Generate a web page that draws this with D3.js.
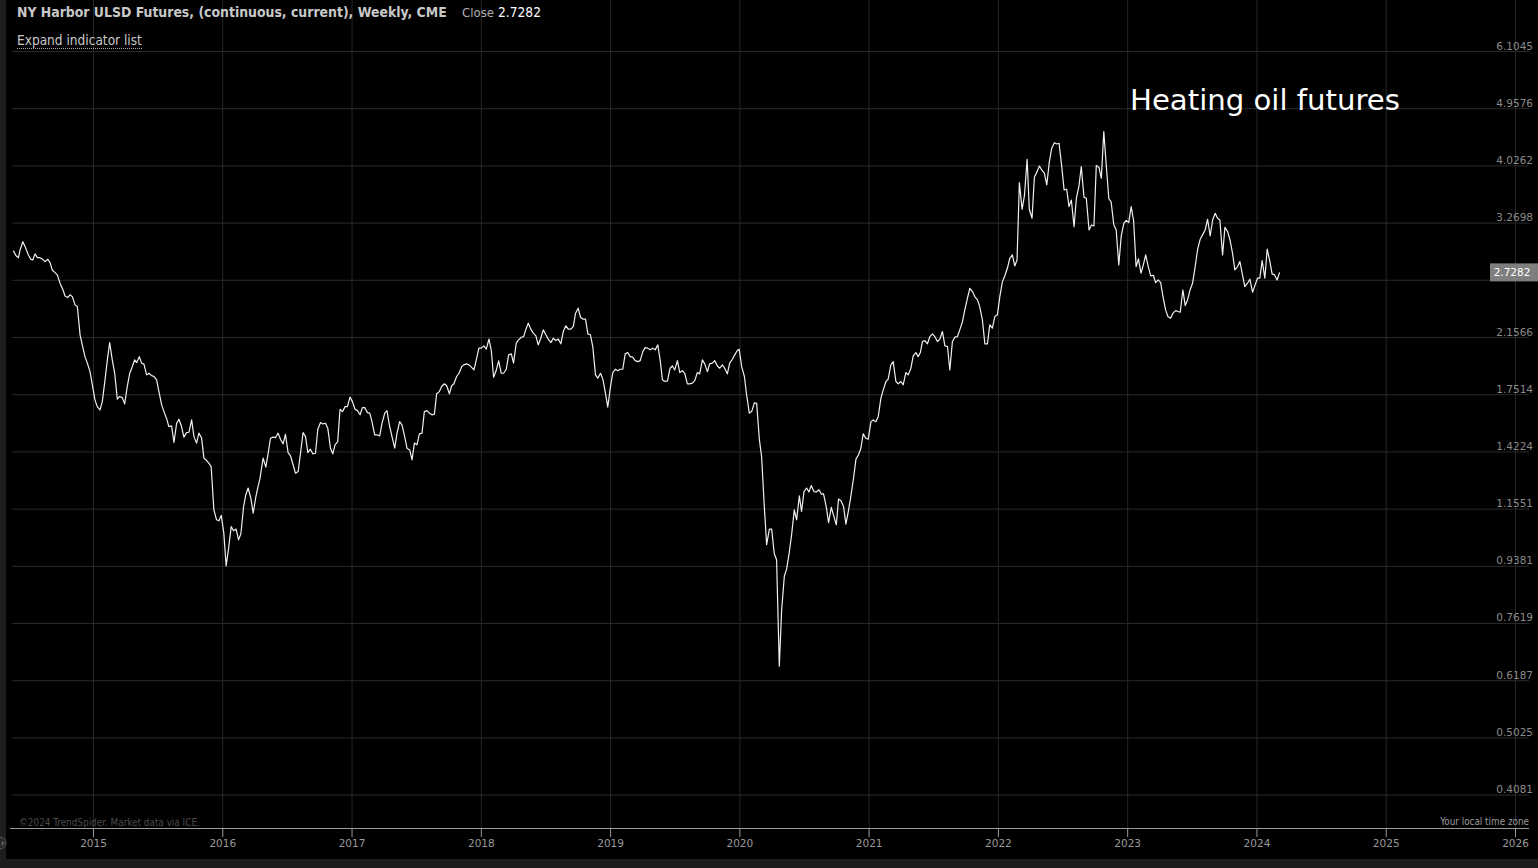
<!DOCTYPE html>
<html><head><meta charset="utf-8">
<script src="https://cdn.jsdelivr.net/npm/d3@7"></script>
<style>html,body{margin:0;padding:0;background:#000;overflow:hidden}</style>
</head><body><svg id="c" width="1538" height="868"></svg>
<script>
// Weekly close, decimal-year dates
const dates = [
2014.384,2014.403,2014.423,2014.436,2014.457,2014.475,2014.500,2014.519,2014.534,2014.552,2014.570,2014.590,2014.611,2014.629,2014.650,2014.668,2014.685,2014.706,2014.724,2014.745,2014.766,2014.784,2014.804,2014.822,2014.840,2014.861,2014.879,2014.900,2014.920,2014.938,2014.956,2014.977,2014.995,
2015.015,2015.033,2015.054,2015.072,2015.093,2015.111,2015.129,2015.149,2015.168,2015.188,2015.206,2015.226,2015.245,2015.265,2015.284,2015.304,2015.322,2015.338,2015.358,2015.376,2015.394,2015.415,2015.433,2015.454,2015.471,2015.492,2015.510,2015.531,2015.549,2015.570,2015.587,2015.608,2015.626,2015.647,2015.665,2015.685,2015.703,2015.724,2015.742,2015.763,2015.781,2015.801,2015.819,2015.840,2015.858,2015.879,2015.896,2015.914,2015.935,2015.956,2015.974,2015.992,
2016.012,2016.030,2016.049,2016.069,2016.087,2016.107,2016.126,2016.144,2016.165,2016.182,2016.200,2016.221,2016.239,2016.260,2016.277,2016.291,2016.316,2016.337,2016.355,2016.373,2016.393,2016.412,2016.432,2016.450,2016.471,2016.489,2016.509,2016.528,2016.548,2016.566,2016.587,2016.605,2016.625,2016.644,2016.662,2016.682,2016.700,2016.721,2016.739,2016.760,2016.777,2016.798,2016.816,2016.837,2016.855,2016.872,2016.893,2016.911,2016.930,2016.950,2016.968,2016.988,
2017.007,2017.027,2017.046,2017.066,2017.084,2017.102,2017.123,2017.141,2017.158,2017.179,2017.197,2017.218,2017.236,2017.257,2017.274,2017.295,2017.313,2017.334,2017.352,2017.372,2017.390,2017.411,2017.429,2017.450,2017.468,2017.486,2017.506,2017.525,2017.545,2017.563,2017.583,2017.602,2017.622,2017.641,2017.658,2017.679,2017.697,2017.718,2017.736,2017.757,2017.774,2017.792,2017.813,2017.831,2017.852,2017.869,2017.888,2017.908,2017.927,2017.947,2017.965,2017.985,
2018.004,2018.024,2018.042,2018.063,2018.081,2018.099,2018.120,2018.138,2018.158,2018.176,2018.197,2018.215,2018.236,2018.253,2018.274,2018.292,2018.313,2018.331,2018.349,2018.367,2018.387,2018.406,2018.426,2018.444,2018.464,2018.483,2018.503,2018.522,2018.542,2018.560,2018.580,2018.599,2018.619,2018.638,2018.658,2018.676,2018.696,2018.715,2018.733,2018.753,2018.771,2018.792,2018.810,2018.828,2018.848,2018.866,2018.887,2018.905,2018.926,2018.944,2018.964,2018.982,
2019.003,2019.021,2019.042,2019.059,2019.078,2019.098,2019.117,2019.137,2019.155,2019.175,2019.194,2019.214,2019.233,2019.253,2019.271,2019.291,2019.310,2019.330,2019.349,2019.369,2019.387,2019.405,2019.426,2019.444,2019.464,2019.482,2019.500,2019.521,2019.539,2019.560,2019.577,2019.598,2019.616,2019.637,2019.655,2019.675,2019.693,2019.714,2019.732,2019.753,2019.770,2019.791,2019.809,2019.830,2019.848,2019.869,2019.886,2019.907,2019.925,2019.946,2019.964,2019.984,2019.998,
2020.018,2020.039,2020.056,2020.077,2020.095,2020.116,2020.134,2020.155,2020.172,2020.193,2020.211,2020.232,2020.250,2020.270,2020.288,2020.309,2020.327,2020.348,2020.365,2020.386,2020.404,2020.425,2020.443,2020.464,2020.481,2020.500,2020.520,2020.538,2020.556,2020.577,2020.595,2020.616,2020.634,2020.651,2020.672,2020.690,2020.711,2020.729,2020.750,2020.767,2020.786,2020.806,2020.824,2020.845,2020.863,2020.883,2020.902,2020.922,2020.940,2020.958,2020.979,2020.997,
2021.018,2021.035,2021.056,2021.074,2021.095,2021.113,2021.134,2021.151,2021.172,2021.190,2021.211,2021.229,2021.250,2021.267,2021.288,2021.306,2021.327,2021.345,2021.366,2021.383,2021.400,2021.416,2021.435,2021.455,2021.474,2021.494,2021.512,2021.532,2021.551,2021.571,2021.590,2021.610,2021.628,2021.648,2021.667,2021.687,2021.705,2021.726,2021.744,2021.764,2021.783,2021.803,2021.821,2021.842,2021.860,2021.880,2021.899,2021.919,2021.937,2021.957,2021.976,2021.996,
2022.015,2022.035,2022.053,2022.073,2022.092,2022.112,2022.130,2022.148,2022.166,2022.187,2022.205,2022.226,2022.243,2022.264,2022.282,2022.303,2022.321,2022.339,2022.359,2022.378,2022.398,2022.416,2022.437,2022.455,2022.473,2022.494,2022.512,2022.532,2022.550,2022.568,2022.589,2022.607,2022.627,2022.645,2022.666,2022.684,2022.705,2022.724,2022.743,2022.761,2022.782,2022.800,2022.819,2022.838,2022.858,2022.876,2022.896,2022.915,2022.935,2022.954,2022.974,2022.992,
2023.012,2023.031,2023.050,2023.069,2023.087,2023.107,2023.125,2023.143,2023.163,2023.182,2023.202,2023.220,2023.240,2023.259,2023.277,2023.297,2023.315,2023.336,2023.354,2023.375,2023.393,2023.410,2023.431,2023.449,2023.467,2023.488,2023.506,2023.526,2023.545,2023.565,2023.583,2023.603,2023.622,2023.642,2023.661,2023.681,2023.699,2023.717,2023.738,2023.756,2023.777,2023.794,2023.815,2023.833,2023.854,2023.872,2023.892,2023.910,2023.931,2023.949,2023.970,2023.987,
2024.008,2024.026,2024.044,2024.065,2024.083,2024.104,2024.121,2024.140,2024.160,2024.179
];
const closes = [
2.953,2.900,2.878,2.960,3.051,2.996,2.907,2.861,2.854,2.918,2.878,2.878,2.861,2.837,2.861,2.826,2.752,2.726,2.703,2.623,2.566,2.504,2.489,2.514,2.498,2.424,2.409,2.174,2.083,2.008,1.961,1.901,1.812,
1.716,1.674,1.654,1.705,1.845,1.984,2.113,1.984,1.890,1.720,1.737,1.730,1.691,1.801,1.890,1.936,1.984,1.965,2.008,1.961,1.954,1.879,1.890,1.874,1.868,1.845,1.768,1.685,1.644,1.601,1.557,1.561,1.469,1.576,1.599,1.557,1.498,1.523,1.525,1.595,1.501,1.466,1.520,1.493,1.388,1.376,1.363,1.346,1.150,1.109,1.105,1.127,
1.056,0.938,1.000,1.082,1.066,1.072,1.031,1.054,1.164,1.215,1.245,1.200,1.136,1.207,1.252,1.287,1.388,1.343,1.413,1.492,1.498,1.496,1.520,1.487,1.462,1.514,1.416,1.399,1.355,1.314,1.322,1.413,1.523,1.501,1.416,1.434,1.410,1.413,1.542,1.580,1.572,1.576,1.548,1.439,1.410,1.457,1.474,1.658,1.644,1.674,1.674,1.733,
1.705,1.658,1.650,1.625,1.668,1.668,1.638,1.635,1.585,1.511,1.511,1.505,1.576,1.635,1.650,1.557,1.501,1.439,1.520,1.585,1.567,1.501,1.439,1.430,1.379,1.466,1.457,1.516,1.520,1.644,1.650,1.635,1.625,1.629,1.754,1.768,1.801,1.819,1.806,1.754,1.806,1.819,1.868,1.890,1.936,1.949,1.956,1.949,1.933,1.913,1.984,2.071,
2.071,2.088,2.063,2.140,2.053,1.863,1.913,1.977,1.890,1.890,1.918,2.021,2.028,1.961,2.109,2.134,2.155,2.160,2.219,2.268,2.219,2.187,2.166,2.096,2.147,2.213,2.174,2.140,2.113,2.147,2.129,2.140,2.104,2.200,2.246,2.219,2.219,2.240,2.352,2.395,2.318,2.301,2.301,2.181,2.174,2.083,1.879,1.857,1.890,1.850,1.758,1.671,
1.801,1.895,1.918,1.908,1.918,1.918,2.028,2.038,2.008,2.004,1.979,1.972,1.979,2.045,2.075,2.071,2.058,2.071,2.058,2.096,1.984,1.845,1.834,1.838,1.925,1.941,1.913,1.979,1.895,1.908,1.890,1.819,1.819,1.823,1.840,1.895,1.886,1.984,1.956,1.901,1.956,1.961,1.979,1.941,1.925,1.949,1.925,1.886,1.961,1.989,2.021,2.053,2.063,
1.936,1.868,1.748,1.635,1.644,1.697,1.694,1.483,1.396,1.164,1.013,1.072,1.072,0.980,0.959,0.651,0.799,0.904,0.926,0.985,1.050,1.150,1.109,1.210,1.143,1.229,1.245,1.227,1.256,1.229,1.227,1.237,1.218,1.219,1.164,1.098,1.160,1.127,1.089,1.196,1.189,1.164,1.092,1.150,1.210,1.290,1.383,1.405,1.439,1.516,1.492,1.487,
1.585,1.595,1.585,1.614,1.727,1.779,1.834,1.850,1.949,1.972,1.834,1.819,1.834,1.812,1.895,1.879,1.925,2.013,2.038,2.008,2.038,2.121,2.129,2.104,2.160,2.181,2.160,2.121,2.140,2.200,2.088,2.083,1.913,2.121,2.155,2.160,2.213,2.281,2.380,2.483,2.575,2.544,2.498,2.468,2.404,2.295,2.104,2.104,2.254,2.227,2.323,2.338,
2.498,2.638,2.693,2.769,2.872,2.907,2.793,2.854,3.781,3.432,3.603,4.117,3.432,3.322,3.856,3.936,4.018,3.960,3.913,3.750,4.081,4.285,4.373,4.353,4.364,4.008,3.682,3.692,3.465,3.550,3.222,3.572,3.736,4.008,3.586,3.572,3.183,3.242,3.230,4.026,3.996,3.842,4.552,4.033,3.566,3.525,3.248,3.183,2.803,3.115,3.262,3.297,
3.269,3.465,3.289,2.786,2.865,2.720,2.803,2.907,2.786,2.693,2.700,2.628,2.654,2.628,2.498,2.380,2.323,2.309,2.352,2.374,2.366,2.360,2.559,2.418,2.468,2.566,2.623,2.786,2.968,3.078,3.127,3.183,3.310,3.115,3.301,3.383,3.322,3.301,2.907,3.215,3.164,3.078,2.925,2.752,2.786,2.837,2.703,2.590,2.623,2.661,2.538,2.597,
2.671,2.671,2.847,2.671,2.968,2.837,2.713,2.703,2.654,2.7282
];
const yearTicks = [2015,2016,2017,2018,2019,2020,2021,2022,2023,2024,2025,2026];
const priceTicks = [6.1045,4.9576,4.0262,3.2698,2.6556,2.1566,1.7514,1.4224,1.1551,0.9381,0.7619,0.6187,0.5025,0.4081];
const hiddenPriceLabels = [2.6556];
const lastClose = 2.7282;
const titleText = "NY Harbor ULSD Futures, (continuous, current), Weekly, CME";
const closeLabel = "Close";
const expandText = "Expand indicator list";
const annotation = "Heating oil futures";
const copyright = "\u00A92024 TrendSpider. Market data via ICE.";
const tzText = "Your local time zone";

const data = dates.map((t,i)=>({t, v: closes[i]}));
const svg = d3.select("#c");
const W = 1538, H = 868;
svg.append("rect").attr("width",W).attr("height",H).attr("fill","#000");
// frame strips
svg.append("rect").attr("x",0).attr("y",0).attr("width",6).attr("height",H).attr("fill","#1d1d1d");
svg.append("rect").attr("x",0).attr("y",859).attr("width",W).attr("height",9).attr("fill","#1d1d1d");

const x = d3.scaleLinear().domain([2015,2026]).range([93,1515]);
const y = d3.scaleLog().domain([priceTicks[priceTicks.length-1], priceTicks[0]]).range([794.6,51]);

// vertical grid
const vg = svg.append("g").attr("transform","translate(0,828)")
  .call(d3.axisBottom(x).tickValues(yearTicks).tickSize(-828).tickFormat(""));
vg.select(".domain").remove();
vg.selectAll("line").attr("stroke","#262626").attr("stroke-width",1);

// horizontal grid
const hg = svg.append("g").attr("transform","translate(1529,0)")
  .call(d3.axisLeft(y).tickValues(priceTicks).tickSize(1517).tickFormat(""));
hg.select(".domain").remove();
hg.selectAll("line").attr("stroke","#2a2a2a").attr("stroke-width",1);

// price labels
const pl = svg.append("g").attr("transform","translate(1533,0)")
  .call(d3.axisLeft(y).tickValues(priceTicks.filter(v=>!hiddenPriceLabels.includes(v))).tickSize(0).tickPadding(0).tickFormat(d3.format(".4f")));
pl.select(".domain").remove();
pl.selectAll("text").attr("font-family","DejaVu Sans").attr("font-size",10.5).attr("fill","#8a8a8a")
  .attr("dy",0).attr("y",-2).attr("text-anchor","end");

// x axis
const xa = svg.append("g").attr("transform","translate(0,828)")
  .call(d3.axisBottom(x).tickValues(yearTicks).tickSize(9).tickPadding(3).tickFormat(d3.format("d")));
xa.select(".domain").remove();
svg.append("line").attr("x1",10).attr("x2",1529).attr("y1",828.5).attr("y2",828.5).attr("stroke","#9a9a9a");
xa.selectAll("line").attr("stroke","#9a9a9a");
xa.selectAll("text").attr("font-family","DejaVu Sans").attr("font-size",10.5).attr("fill","#999").attr("dy","0.71em");

// price line
svg.append("path").datum(data)
  .attr("d", d3.line().x(d=>x(d.t)).y(d=>y(d.v)))
  .attr("fill","none").attr("stroke","#f0f0f0").attr("stroke-width",1.2).attr("stroke-linejoin","round");

// current price tag
const ly = y(lastClose);
svg.append("rect").attr("x",1490).attr("y",ly-9).attr("width",48).attr("height",18).attr("fill","#7f7f7f");
svg.append("text").attr("x",1512).attr("y",ly+4).attr("text-anchor","middle")
  .attr("font-family","DejaVu Sans").attr("font-size",10.5).attr("fill","#fff").text(d3.format(".4f")(lastClose));

function fit(sel, w){ const l = sel.node().getComputedTextLength(); sel.attr("font-size", parseFloat(sel.attr("font-size"))*w/l); return sel; }

// title
fit(svg.append("text").attr("x",17).attr("y",17).attr("font-family","DejaVu Sans Condensed, DejaVu Sans")
  .attr("font-weight","bold").attr("font-size",13).attr("fill","#c8c8c8").text(titleText), 430);
fit(svg.append("text").attr("x",462).attr("y",17).attr("font-family","DejaVu Sans Condensed, DejaVu Sans")
  .attr("font-size",13).attr("fill","#b0b0b0").text(closeLabel), 32);
fit(svg.append("text").attr("x",498).attr("y",17).attr("font-family","DejaVu Sans Condensed, DejaVu Sans")
  .attr("font-size",13).attr("fill","#fff").text(d3.format(".4f")(lastClose)), 43);
fit(svg.append("text").attr("x",17).attr("y",45).attr("font-family","DejaVu Sans Condensed, DejaVu Sans")
  .attr("font-size",14).attr("fill","#c8c8c8").text(expandText), 125);
svg.append("line").attr("x1",17).attr("x2",142).attr("y1",48.5).attr("y2",48.5)
  .attr("stroke","#aaa").attr("stroke-dasharray","1,1");

// annotation
fit(svg.append("text").attr("x",1130).attr("y",110).attr("font-family","DejaVu Sans")
  .attr("font-size",29).attr("fill","#fff").text(annotation), 270);

// footer texts
fit(svg.append("text").attr("x",19).attr("y",826).attr("font-family","DejaVu Sans Condensed, DejaVu Sans")
  .attr("font-size",10).attr("fill","#4a4a4a").text(copyright), 181);
fit(svg.append("text").attr("x",1529).attr("y",825).attr("text-anchor","end").attr("font-family","DejaVu Sans Condensed, DejaVu Sans")
  .attr("font-size",10).attr("fill","#9a9a9a").text(tzText), 89);

// side button
svg.append("circle").attr("cx",0).attr("cy",843).attr("r",6).attr("fill","#2a2a2a").attr("stroke","#555");
svg.append("text").attr("x",1).attr("y",846).attr("font-family","DejaVu Sans").attr("font-size",8).attr("fill","#aaa").text("›");
</script></body></html>
